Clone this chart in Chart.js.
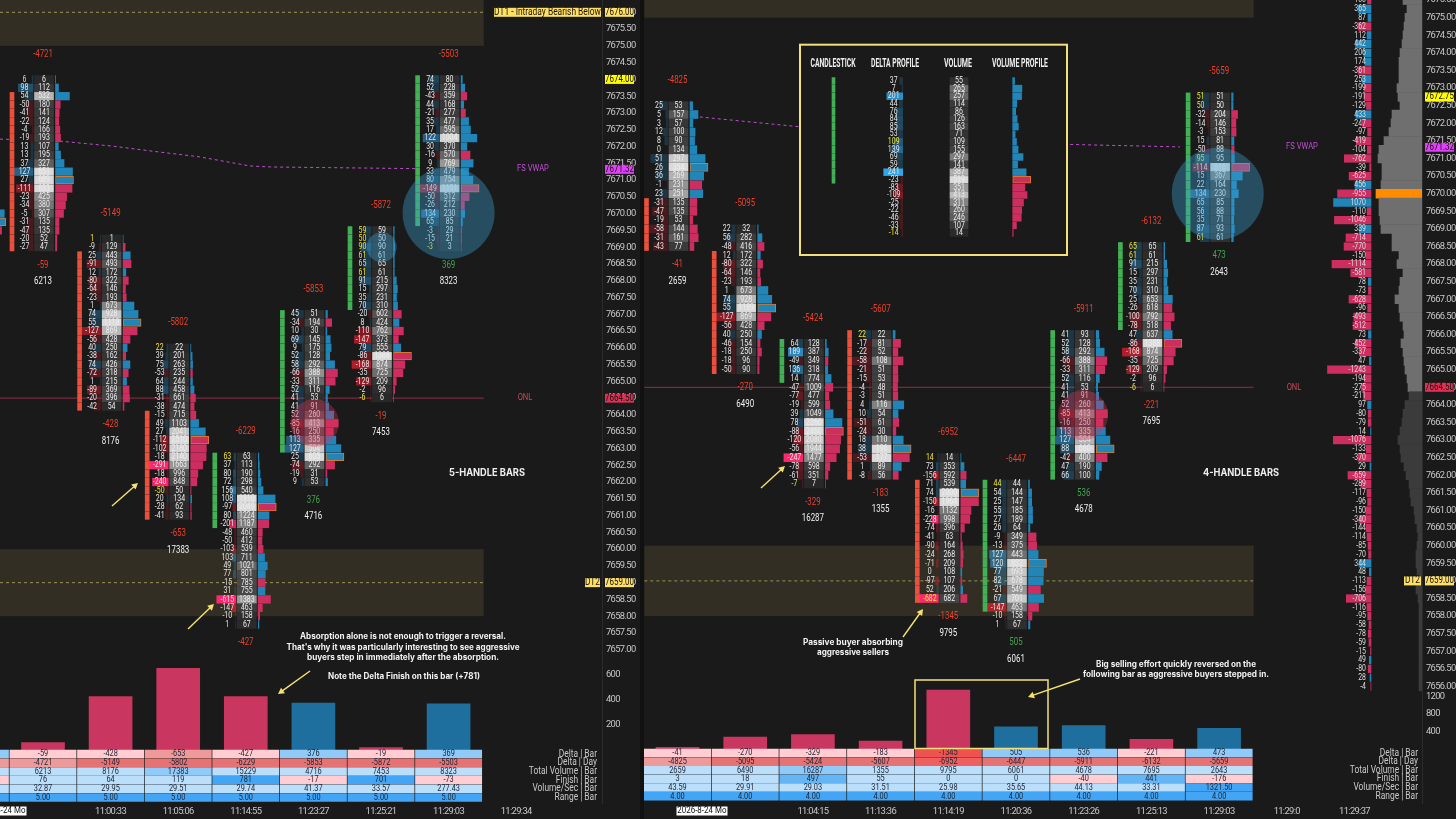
<!DOCTYPE html>
<html><head><meta charset="utf-8"><title>Footprint chart</title>
<script src="https://cdn.jsdelivr.net/npm/chart.js@4"></script>
<style>
html,body{margin:0;padding:0;background:#1a1a1a;width:1456px;height:819px;overflow:hidden}
canvas{position:absolute;top:0;display:block}
#div{position:absolute;left:640px;top:0;width:4px;height:819px;background:#111}
</style></head><body>
<canvas id="cl" width="640" height="819" style="left:0"></canvas>
<canvas id="cr" width="816" height="819" style="left:640px"></canvas>
<div id="div"></div>
<script>
// ---------- LEFT PANE (5-handle bars) ----------
const leftTops=[7674,7669.25,7666,7662.75,7667,7669.5,7674];
const leftCandleHigh=[7673.5,7668.75,7664,7662.75,7667,7669.5,7674];
const leftCandleLow=[7669,7664.25,7661,7660.75,7663,7667.25,7669.75];
const leftCandleUp=[false,false,false,true,true,true,true];
const leftDelta0=[6,98,54,-50,-41,-22,-4,-19,13,13,37,127,27,-111,-23,-34,-5,-31,-47,-20,-27];
const leftVol0=[6,112,532,180,141,124,166,193,107,195,327,651,689,633,425,380,307,135,135,52,47];
const leftDelta1=[1,-9,25,-91,12,-80,-64,-23,1,74,55,-127,-56,40,-38,74,-72,1,-89,-20,-42];
const leftVol1=[1,129,443,493,172,322,146,193,673,928,1118,869,428,250,162,426,318,215,369,396,54];
const leftDelta2=[22,39,75,-53,64,88,-31,-38,-15,49,27,-112,-102,-18,-291,-18,-240,-50,20,-28,-41];
const leftVol2=[22,201,263,235,244,458,661,474,715,1103,2041,2510,2180,2140,1663,996,848,50,134,62,93];
const leftDelta3=[63,37,80,72,156,108,-97,80,-201,-48,-50,-103,103,49,77,-15,31,-615,-147,-10,1];
const leftVol3=[63,113,190,298,540,1910,2049,1224,1187,460,412,539,711,1021,801,785,755,1383,463,158,67];
const leftDelta4=[45,-34,10,69,9,52,58,-66,-33,52,41,41,52,-85,-16,113,127,25,-74,-19,9];
const leftVol4=[51,194,30,145,175,128,292,388,311,116,53,91,260,413,250,335,504,605,292,31,53];
const leftDelta5=[59,50,90,61,65,61,91,15,35,70,-20,8,-110,-147,79,-86,-168,-35,-129,-2,-6];
const leftVol5=[59,50,90,61,65,61,215,297,231,310,602,424,762,373,555,1388,874,725,209,96,6];
const leftDelta6=[74,52,-43,44,-21,35,17,122,30,-16,9,33,80,-149,-50,-26,134,65,-3,-15,-3];
const leftVol6=[80,228,359,168,277,477,595,1004,370,570,769,479,754,1151,512,212,230,85,29,21,3];
const leftEdgeDelta=[30,10,-20];
const leftEdgeVol=[600,660,500];
const leftDeltaBar=[-59,-428,-653,-427,376,-19,369];
const leftDeltaDay=[-4721,-5149,-5802,-6229,-5853,-5872,-5503];
const leftTotalVol=[6213,8176,17383,15229,4716,7453,8323];
const leftFinish=[76,64,119,781,-17,701,-73];
const leftVolSec=[32.87,29.95,29.51,29.74,41.37,33.57,277.43];
const leftRange=[5,5,5,5,5,5,5];
const leftEdgeTable=[150,-4662,7000,-12,30.1,5];
const leftTimes=['11:00:33','11:05:06','11:14:55','11:23:27','11:25:21','11:29:03','11:29:34'];
const leftVwapX=[-.636,-.459,null,.25,1.035,1.58,2.32,3.06,3.36,4.25,5.53];
const leftVwapP=[7672.22,7672.21,null,7672.16,7672.01,7671.87,7671.69,7671.42,7671.39,7671.37,7671.34];

// ---------- RIGHT PANE (4-handle bars) ----------
const rightTops=[7672.5,7669,7665.75,7666,7662.5,7661.75,7666,7668.5,7672.75];
const rightCandleHigh=[7669.75,7668.25,7665.75,7666,7661.75,7661.75,7666,7668.5,7672.75];
const rightCandleLow=[7668.5,7665,7664.75,7662,7658.5,7658.25,7662,7666.25,7668.75];
const rightCandleUp=[false,false,true,false,false,true,true,true,true];
const rightDelta0=[25,5,3,12,8,0,51,26,36,-1,23,-31,-47,-19,-58,-31,-43];
const rightVol0=[53,157,57,100,90,134,297,354,269,231,251,135,135,53,144,161,77];
const rightDelta1=[22,56,-48,12,-80,-64,-23,1,74,55,-127,-56,40,-46,-18,-18,-50];
const rightVol1=[32,282,416,172,322,146,193,673,928,1189,869,428,250,154,250,96,90];
const rightDelta2=[64,189,-49,136,14,-47,-77,-19,39,78,-88,-120,-56,-247,-78,-61,-7];
const rightVol2=[128,387,349,318,774,1009,477,599,1049,2260,2460,2080,1944,1477,598,351,7];
const rightDelta3=[22,-17,-22,-58,-21,-15,-4,-3,4,10,-51,-24,18,38,-53,1,-8];
const rightVol3=[22,81,52,108,51,53,48,51,116,54,61,30,110,196,177,89,56];
const rightDelta4=[14,73,-156,71,74,-150,-16,-228,-74,-41,-90,-24,-71,0,-97,52,-682];
const rightVol4=[14,353,592,539,2000,1964,1132,998,396,63,164,268,209,108,107,206,682];
const rightDelta5=[44,54,25,55,27,26,-9,-13,127,120,77,82,-21,67,-147,-10,1];
const rightVol5=[44,144,147,185,189,64,349,375,443,832,693,678,549,701,463,158,67];
const rightDelta6=[41,52,58,-66,-33,52,41,41,52,-85,-16,113,127,88,-42,47,66];
const rightVol6=[93,128,292,388,311,116,53,91,260,413,250,335,504,660,400,190,100];
const rightDelta7=[65,61,91,15,35,70,25,-26,-100,-78,47,-86,-168,-35,-129,-2,-6];
const rightVol7=[65,61,215,297,231,310,653,618,792,518,637,1388,874,725,209,96,6];
const rightDelta8=[51,50,-32,-14,-3,15,-50,95,-114,15,22,134,65,56,35,87,61];
const rightVol8=[51,50,204,146,153,81,88,95,616,367,164,230,85,88,71,93,61];
const rightDeltaBar=[-41,-270,-329,-183,-1345,505,536,-221,473];
const rightDeltaDay=[-4825,-5095,-5424,-5607,-6952,-6447,-5911,-6132,-5659];
const rightTotalVol=[2659,6490,16287,1355,9795,6061,4678,7695,2643];
const rightFinish=[3,18,497,55,0,0,-40,441,-176];
const rightVolSec=[43.59,29.91,29.03,31.51,25.98,35.65,44.13,33.31,1321.5];
const rightRange=[4,4,4,4,4,4,4,4,4];
const rightTimes=['11:04:15','11:13:36','11:14:19','11:20:36','11:23:26','11:25:13','11:29:03','11:29:0','11:29:37'];
const rightVwapX=[.33,1.81,null,5.8,6.24,7.42];
const rightVwapP=[7672.18,7671.9,null,7671.4,7671.38,7671.33];
const profileDelta=[-100,365,87,-362,112,442,206,174,-361,253,-199,-191,-129,433,-247,-97,-419,-104,-762,-39,-625,456,-955,1070,-110,-1046,339,-714,-770,-150,-1114,-581,78,-73,-628,-96,-493,-512,73,-452,-337,47,-1243,-194,-275,-211,97,-80,-79,14,-1076,-133,-370,29,-659,-289,-117,-96,-150,-340,-144,-114,-85,-70,344,48,-113,-156,-706,-116,-95,-58,-78,-59,-15,49,-80,28,-4];
const profileVolume=[4750,3750,4250,4500,4750,5000,5500,5750,5750,5750,6250,6000,5500,7500,7750,8250,9500,10750,11000,10000,10000,10250,11500,10750,10750,10500,10250,7500,7500,5750,6250,4750,5500,5750,6750,5750,5500,4750,4500,5250,4750,4500,4250,3750,3500,3250,4250,4750,5000,5500,6000,5500,5250,4500,4000,3250,3000,2750,2000,1750,1250,1000,1250,1500,1500,1250,750,1500,1000,750,750,750,750,750,750,750,750,750,750];

// ---------- LEGEND BOX ----------
const legendHeads=['CANDLESTICK','DELTA PROFILE','VOLUME','VOLUME PROFILE'];
const legendDelta=[37,7,201,44,76,84,85,53,109,139,69,59,241,-23,-83,-109,-25,-22,-46,-33,-14];
const legendVol=[55,265,257,114,86,126,163,71,109,155,297,141,387,519,351,413,311,260,246,107,14];

// ---------- SHARED LABELS ----------
const tableRowNames=['Delta | Bar','Delta | Day','Total Volume | Bar','Finish | Bar','Volume/Sec | Bar','Range | Bar'];

// ---------- STYLE / LAYOUT ----------
const NARROW='"Roboto",sans-serif';
const SANS='"Inter","Open Sans",sans-serif';
const FOOT='8.9px '+NARROW;
const BAND='#332e23', RED='#e8402f', GREEN='#43a24f';
const PINK='#cc2f5f', BLUE='#2185b8';
const tints=[
 v=>v>=0?'#90caf9':v<-1000?'#ef5350':v<-500?'#ef9a9a':'#ffcdd2',
 v=>v<-6900?'#ef5f5f':v<-5000?'#e57373':'#ef9a9a',
 v=>v>16000?'#90caf9':'#bbdefb',
 v=>v<0?'#ffcdd2':v>600?'#42a5f5':v>400?'#64b5f6':'#bbdefb',
 v=>v>1000?'#42a5f5':'#bbdefb',
 ()=>'#42a5f5'
];
const grayOf=t=>{const g=Math.round(t<=.4?40+t/.4*34:Math.min(218,74+(t-.4)/.5*144));return `rgb(${g},${g},${g})`;};

function group(){return {cand:[],candC:[],shade:[],shadeC:[],cell:[],cellC:[],prof:[],profC:[],poc:[],pocC:[]};}

function addColumn(P,G,yId,o){
 const L=o.L,u=P.u,c=o.c;
 const mxV=Math.max(...o.vol),mxD=Math.max(...o.delta.map(Math.abs),1);
 o.vol.forEach((v,i)=>{
  const d=o.delta[i],p=o.top-i*o.step;
  if(o.hi!==undefined&&p<=o.hi+1e-6&&p>=o.lo-1e-6){G.cand.push({x:[c+u*L.cand[0],c+u*L.cand[1]],y:p});G.candC.push(o.up?'#42b155':'#ec4f3b');}
  if(d!==0){
   const w=L.dW*Math.abs(d)/mxD,a=Math.max(.2,Math.min(1,Math.abs(d)/250));
   G.shade.push({x:[c+u*(L.dR-w),c+u*L.dR],y:p});
   G.shadeC.push(d<0?`rgba(255,${a>.7?40:30},${a>.7?110:50},${a})`:`rgba(50,170,240,${a})`);
  }
  G.cell.push({x:[c+u*L.cL,c+u*L.cR],y:p});G.cellC.push(grayOf(v/mxV));
  const w=L.pW*v/mxV,bar={x:[c+u*L.pL,c+u*(L.pL+w)],y:p};
  if(v===mxV&&!o.noPoc){G.poc.push(bar);G.pocC.push(d<0?PINK:BLUE);}
  else{G.prof.push(bar);G.profC.push(d<0?PINK:BLUE);}
  if(o.text!==false){
   P.texts.push({t:String(d),xs:'x',x:c+u*L.dT,ys:yId,y:p,color:Math.abs(d)===v?'#f2e53a':'#e6e6e6',font:FOOT});
   P.texts.push({t:String(v),xs:'x',x:c+u*L.vT,ys:yId,y:p,color:'#eeeeee',font:FOOT});
  }
 });
 if(o.day!==undefined){
  const pTop=o.top,pBot=o.top-(o.vol.length-1)*o.step;
  const F='10.4px '+NARROW;
  P.texts.push({t:String(o.day),xs:'x',x:c,ys:yId,y:pTop,dy:-25,color:RED,font:F,sq:.76});
  P.texts.push({t:String(o.bar),xs:'x',x:c,ys:yId,y:pBot,dy:18,color:o.bar<0?RED:GREEN,font:F,sq:.76});
  P.texts.push({t:String(o.total),xs:'x',x:c,ys:yId,y:pBot,dy:34.5,color:'#f0f0f0',font:F,sq:.76,limit:P.textBottom});
 }
}
function bars(data,color,thick,x,y,order,extra){
 return Object.assign({type:'bar',indexAxis:'y',xAxisID:x,yAxisID:y,data,backgroundColor:color,barThickness:thick,grouped:false,order,borderWidth:0,borderSkipped:false},extra||{});
}
function groupSets(G,y,thick){
 return [
  bars(G.cand,G.candC,thick,'x',y,3),
  bars(G.shade,G.shadeC,thick,'x',y,3),
  bars(G.cell,G.cellC,thick,'x',y,3),
  bars(G.prof,G.profC,thick,'x',y,3),
  bars(G.poc,G.pocC,thick,'x',y,2,{borderWidth:1,borderColor:'#d9772c'})
 ];
}
function line(xs,ps,color,dash,width,order,y){
 return {type:'line',indexAxis:'x',xAxisID:'x',yAxisID:y||'y',data:xs.map((x,i)=>({x,y:ps[i]})),borderColor:color,borderDash:dash||[],borderWidth:width||1,pointRadius:0,spanGaps:false,order:order||8,tension:0};
}
const range=(val0,y0,k,bottom)=>({max:val0+y0/k,min:val0-(bottom-y0)/k});
const squeezed=(c,t,x,y,q)=>c.fillText(t,x,y,c.measureText(t).width*q);

function makePane(P){
 const AREA_BOTTOM=803;
 const pr=range(P.p0,P.py0,P.k,AREA_BOTTOM);
 const dr=range(0,P.dy0,1/P.dUnit,AREA_BOTTOM);
 const cStep=P.cStep;
 P.u=1/cStep;
 const xMin=(P.left-P.c0)/cStep,xMax=(P.left+P.areaW-P.c0)/cStep;
 const tr={min:-(P.ty0)/P.tStep,max:(AREA_BOTTOM-P.ty0)/P.tStep};
 P.texts=[];
 const G=group();
 P.columns.forEach(col=>addColumn(P,G,'y',Object.assign({L:P.L,step:.25},col)));
 const sets=groupSets(G,'y',P.thick);
 // table
 const cell=[],cellC=[];
 P.table.forEach((row,r)=>row.forEach((v,i)=>{
   cell.push({x:[i-.5+.01,i+.5-.01],y:r});cellC.push(tints[r](v));
   P.texts.push({t:r>=4?v.toFixed(2):String(v),xs:'x',x:i,ys:'yt',y:r,color:'#1c2433',font:'9.2px '+NARROW,sq:.8});
 }));
 if(P.edgeTable){P.edgeTable.forEach((v,r)=>{cell.push({x:[-1.5+.01,-.5-.01],y:r});cellC.push(tints[r](v));});}
 sets.push(bars(cell,cellC,7.8,'x','yt',4));
 tableRowNames.forEach((n,r)=>P.px.push({t:n,x:P.rowLabelX,row:r,color:'#c9c9c9',align:'right',font:'10px '+NARROW,sq:.84}));
 // delta per bar histogram
 sets.push({type:'bar',indexAxis:'x',xAxisID:'x',yAxisID:'yd',data:P.deltaBar.map((v,i)=>({x:i,y:Math.abs(v)})),backgroundColor:P.deltaBar.map(v=>v<0?'#c9365f':'#1f6f9e'),barThickness:43,grouped:false,order:5});
 // levels
 sets.push(line(P.zoneX,[7676,7676],'#9c9458',[3,3],1,9));
 sets.push(line(P.zoneX,[7659,7659],'#9c9458',[3,3],1,9));
 sets.push(line(P.onlX,[7664.5,7664.5],'#8e2f47',[],1,9));
 sets.push(line(P.vwapX,P.vwapP,'#c04fd0',[3,3],1,7));
 if(P.extraSets)P.extraSets(P,sets);
 const TICKF={family:NARROW,size:9.4};
 const scales={
  x:{type:'linear',axis:'x',min:xMin,max:xMax,offset:false,grid:{display:false,drawTicks:false},border:{display:false},
     afterBuildTicks:s=>{s.ticks=P.times.map((t,i)=>({value:i+P.timeStart}));},
     afterFit:s=>{s.height=16;s.paddingLeft=0;s.paddingRight=0;},
     ticks:{autoSkip:false,maxRotation:0,padding:3,color:'#c9c9c9',font:TICKF,callback:v=>P.times[Math.round(v-P.timeStart)]}},
  y:{type:'linear',axis:'y',position:'right',min:pr.min,max:pr.max,offset:false,weight:1,grid:{display:false,drawTicks:false},border:{color:'#2b2b2b'},
     afterBuildTicks:s=>{const a=[];for(let p=P.pLow;p<=P.pHigh;p+=.5)a.push({value:p});s.ticks=a;},
     afterFit:s=>{s.width=P.axisW;s.paddingTop=0;s.paddingBottom=0;},
     ticks:{autoSkip:false,padding:4,color:'#c9c9c9',font:TICKF,callback:v=>v.toFixed(2)}},
  yd:{type:'linear',axis:'y',position:'right',min:dr.min,max:dr.max,offset:false,weight:0,grid:{display:false,drawTicks:false},border:{display:false},
     afterBuildTicks:s=>{s.ticks=P.dTicks.map(v=>({value:v}));},
     afterFit:s=>{s.width=0;s.paddingTop=0;s.paddingBottom=0;},
     ticks:{autoSkip:false,padding:4,color:'#c9c9c9',font:TICKF,callback:v=>String(v)}},
  yt:{type:'linear',axis:'y',display:false,min:tr.min,max:tr.max,reverse:true,offset:false}
 };
 if(P.extraScales)Object.assign(scales,P.extraScales(P));
 const plugin={
  id:'paint',
  afterLayout(ch){const s=ch.scales.yd;s.left=ch.chartArea.right;s.right=s.left+P.axisW;},
  beforeDraw(ch){ch.ctx.letterSpacing='-0.65px';},
  beforeDatasetsDraw(ch){
   const c=ch.ctx,x=ch.scales.x,y=ch.scales.y;
   c.letterSpacing='0px';
   c.save();c.fillStyle=BAND;
   P.bands.forEach(b=>{
    const y0=y.getPixelForValue(b[1]),y1=y.getPixelForValue(b[0]);
    c.fillRect(x.getPixelForValue(P.zoneX[0]),y0,x.getPixelForValue(P.zoneX[1])-x.getPixelForValue(P.zoneX[0]),y1-y0);
   });
   c.restore();
   if(P.box){c.save();c.fillStyle='#1a1a1a';const b=P.box;c.fillRect(b[0]-P.left,b[1],b[2]-b[0],b[3]-b[1]);c.restore();}
  },
  afterDatasetsDraw(ch){
   const c=ch.ctx;
   c.save();c.textAlign='center';c.textBaseline='middle';
   P.texts.forEach(T=>{
    let X=ch.scales[T.xs].getPixelForValue(T.x)+(T.dx||0),Y=ch.scales[T.ys].getPixelForValue(T.y)+(T.dy||0);
    if(T.limit&&Y>T.limit)return;
    c.font=T.font;c.fillStyle=T.color;c.textAlign=T.align||'center';squeezed(c,T.t,X,Y,T.sq||.78);
   });
   // circles
   P.circles.forEach(k=>{
    c.beginPath();c.arc(ch.scales.x.getPixelForValue(k[0]),ch.scales.y.getPixelForValue(k[1]),k[2],0,Math.PI*2);c.fillStyle=k[3];c.fill();
   });
   // free text
   c.textBaseline='middle';
   P.px.forEach(T=>{
    const Y=T.row!==undefined?ch.scales.yt.getPixelForValue(T.row):T.y;
    c.font=T.font;c.fillStyle=T.color;c.textAlign=T.align||'center';
    if(T.maxW)c.fillText(T.t,T.x-P.left,Y,T.maxW);else squeezed(c,T.t,T.x-P.left,Y,T.sq||.8);
   });
   // arrows
   P.arrows.forEach(a=>{
    const [x0,y0,x1,y1]=[a[0]-P.left,a[1],a[2]-P.left,a[3]],an=Math.atan2(y1-y0,x1-x0);
    c.strokeStyle='#f5e26f';c.fillStyle='#f5e26f';c.lineWidth=1.4;
    c.beginPath();c.moveTo(x0,y0);c.lineTo(x1-4*Math.cos(an),y1-4*Math.sin(an));c.stroke();
    c.beginPath();c.moveTo(x1,y1);c.lineTo(x1-7*Math.cos(an-.5),y1-7*Math.sin(an-.5));c.lineTo(x1-7*Math.cos(an+.5),y1-7*Math.sin(an+.5));c.closePath();c.fill();
   });
   // rectangles
   P.rects.forEach(r=>{c.strokeStyle='#f4e07a';c.lineWidth=r[4];c.strokeRect(r[0]-P.left,r[1],r[2]-r[0],r[3]-r[1]);});
   // price tags
   P.tags.forEach(g=>{
    const Y=ch.scales.y.getPixelForValue(g[0]);
    c.fillStyle=g[1];c.fillRect(P.tagX-P.left,Y-4.5,P.tagW,9);
    c.fillStyle='#1a1208';c.font='10px '+NARROW;c.textAlign='center';squeezed(c,g[0].toFixed(2),P.tagX-P.left+P.tagW/2,Y,.8);
   });
   P.flags.forEach(g=>{
    const Y=ch.scales.y.getPixelForValue(g[3]);
    c.fillStyle='#ffe066';c.fillRect(g[1]-P.left,Y-4.5,g[2]-g[1],9);
    c.fillStyle='#1a1208';c.font='10px '+NARROW;c.textAlign='center';squeezed(c,g[0],(g[1]+g[2])/2-P.left,Y,.84);
   });
   // date tag
   const d=P.dateTag;
   c.fillStyle='#ffffff';c.fillRect(d[0]-P.left,806.5,d[1]-d[0],9);
   c.save();c.beginPath();c.rect(d[0]-P.left,806,d[1]-d[0],10);c.clip();
   c.fillStyle='#111';c.font='9.5px '+NARROW;c.textAlign='right';squeezed(c,'2026-8-24 Mo',d[1]-P.left-1,811,.84);c.restore();
   c.restore();
  }
 };
 return new Chart(document.getElementById(P.id),{type:'bar',data:{datasets:sets},plugins:[plugin],
  options:{responsive:false,animation:false,devicePixelRatio:1,events:[],layout:{padding:0},
   plugins:{legend:{display:false},tooltip:{enabled:false},title:{display:false}},scales}});
}

const footL={cand:[-33,-29],dT:-18.5,dR:-10,dW:19,cL:-8.5,cR:10.5,vT:1,pL:12.5,pW:18};
const ANNOT='700 8.3px '+SANS;
const leftD=[leftDelta0,leftDelta1,leftDelta2,leftDelta3,leftDelta4,leftDelta5,leftDelta6];
const leftV=[leftVol0,leftVol1,leftVol2,leftVol3,leftVol4,leftVol5,leftVol6];
const rightD=[rightDelta0,rightDelta1,rightDelta2,rightDelta3,rightDelta4,rightDelta5,rightDelta6,rightDelta7,rightDelta8];
const rightV=[rightVol0,rightVol1,rightVol2,rightVol3,rightVol4,rightVol5,rightVol6,rightVol7,rightVol8];

// left pane
const leftCols=leftTops.map((top,i)=>({c:i,top,delta:leftD[i],vol:leftV[i],hi:leftCandleHigh[i],lo:leftCandleLow[i],up:leftCandleUp[i],day:leftDeltaDay[i],bar:leftDeltaBar[i],total:leftTotalVol[i]}));
leftCols.push({c:-1,top:7670,delta:leftEdgeDelta,vol:leftEdgeVol,text:false});
makePane({id:'cl',left:0,areaW:602,axisW:38,c0:43,cStep:67.6,p0:7676,py0:12.3,k:33.55,dy0:750,dUnit:8,ty0:754,tStep:8.7,thick:7.6,L:footL,
 columns:leftCols,table:[leftDeltaBar,leftDeltaDay,leftTotalVol,leftFinish,leftVolSec,leftRange],edgeTable:leftEdgeTable,
 deltaBar:leftDeltaBar,dTicks:[200,400,600],pLow:7657,pHigh:7676,times:leftTimes,timeStart:1,textBottom:652,
 zoneX:[-.636,6.52],onlX:[-.636,6.52],vwapX:leftVwapX,vwapP:leftVwapP,bands:[[7675,7677],[7658,7660]],
 circles:[[6,7670.02,46,'rgba(60,160,210,.38)'],[5.01,7669,15,'rgba(60,160,210,.38)'],[4.02,7663.76,24,'rgba(220,50,90,.36)']],
 rowLabelX:597,tagX:605,tagW:29,
 tags:[[7676,'#ffe066'],[7674,'#ffff00'],[7671.32,'#e040fb'],[7664.5,'#e0305a'],[7659,'#ffe066']],
 flags:[['DT1 - Intraday Bearish Below',494,601,7676],['DT2',585,600,7659]],
 dateTag:[0,26.5],rects:[],
 arrows:[[112,506,138,483],[188,629,214,604],[310,671,278,694]],
 px:[
  {t:'FS VWAP',x:533,y:168.5,color:'#c24fd6',font:'9.5px '+NARROW},
  {t:'ONL',x:525,y:398,color:'#c9485f',font:'9.5px '+NARROW},
  {t:'5-HANDLE BARS',x:487,y:473,color:'#eeeeee',font:'700 9.8px '+SANS,maxW:76},
  {t:'Absorption alone is not enough to trigger a reversal.',x:403,y:637,color:'#f2f2f2',font:ANNOT,maxW:206},
  {t:"That's why it was particularly interesting to see aggressive",x:403,y:647.5,color:'#f2f2f2',font:ANNOT,maxW:233},
  {t:'buyers step in immediately after the absorption.',x:403,y:657.5,color:'#f2f2f2',font:ANNOT,maxW:192},
  {t:'Note the Delta Finish on this bar (+781)',x:404,y:677,color:'#f2f2f2',font:ANNOT,maxW:152}
 ]
});

// right pane
const rightCols=rightTops.map((top,i)=>({c:i,top,delta:rightD[i],vol:rightV[i],hi:rightCandleHigh[i],lo:rightCandleLow[i],up:rightCandleUp[i],day:rightDeltaDay[i],bar:rightDeltaBar[i],total:rightTotalVol[i]}));
const legendL={cand:[-127,-124],dT:-65.3,dR:-56.3,dW:19,cL:-9,cR:9,vT:0,pL:53.7,pW:18};
makePane({id:'cr',left:640,areaW:782,axisW:34,c0:677.5,cStep:67.7,p0:7675,py0:17.7,k:35.2,dy0:749,dUnit:22.86,ty0:753,tStep:8.65,thick:8,L:footL,
 columns:rightCols,table:[rightDeltaBar,rightDeltaDay,rightTotalVol,rightFinish,rightVolSec,rightRange],
 deltaBar:rightDeltaBar,dTicks:[400,800,1200],pLow:7656,pHigh:7675.5,times:rightTimes,timeStart:2,textBottom:700,
 zoneX:[-.49,8.51],onlX:[-.49,8.51],vwapX:rightVwapX,vwapP:rightVwapP,bands:[[7675,7677],[7658,7660]],
 circles:[[7.98,7670,46,'rgba(60,160,210,.38)'],[5.99,7663.71,25,'rgba(220,50,90,.36)']],
 rowLabelX:1418,tagX:1425,tagW:29,
 tags:[[7672.75,'#ffff00'],[7671.32,'#e040fb'],[7664.5,'#e0305a'],[7659,'#ffe066']],
 flags:[['DT2',1404,1421,7659]],
 dateTag:[676.5,727.5],
 rects:[[800,44.7,1067,255,2],[915,680,1048,748.5,1.5]],
 box:[800,44.7,1067,255],
 arrows:[[761,488,785,466],[903,637,923,609],[1080,679,1028,697]],
 px:[
  {t:legendHeads[0],x:833,y:64,color:'#eeeeee',font:'700 12px '+NARROW,maxW:45},
  {t:legendHeads[1],x:895,y:64,color:'#eeeeee',font:'700 12px '+NARROW,maxW:48},
  {t:legendHeads[2],x:958,y:64,color:'#eeeeee',font:'700 12px '+NARROW,maxW:28},
  {t:legendHeads[3],x:1020,y:64,color:'#eeeeee',font:'700 12px '+NARROW,maxW:56},
  {t:'FS VWAP',x:1302,y:147,color:'#c24fd6',font:'9.5px '+NARROW},
  {t:'ONL',x:1294,y:388,color:'#c9485f',font:'9.5px '+NARROW},
  {t:'4-HANDLE BARS',x:1241,y:473,color:'#eeeeee',font:'700 9.8px '+SANS,maxW:76},
  {t:'Passive buyer absorbing',x:853,y:643,color:'#f2f2f2',font:ANNOT,maxW:100},
  {t:'aggressive sellers',x:853,y:652.5,color:'#f2f2f2',font:ANNOT,maxW:72},
  {t:'Big selling effort quickly reversed on the',x:1176,y:665,color:'#f2f2f2',font:ANNOT,maxW:160},
  {t:'following bar as aggressive buyers stepped in.',x:1176,y:675,color:'#f2f2f2',font:ANNOT,maxW:186}
 ],
 extraScales:P=>{
  const u=P.areaW;
  return {
   xv:{type:'linear',axis:'x',display:false,reverse:true,min:0,max:u*250,offset:false},
   xd:{type:'linear',axis:'x',display:false,reverse:true,min:-1457,max:-1457+u/.035,offset:false},
   yl:{type:'linear',axis:'y',display:false,reverse:true,min:-81/7.6,max:(803-81)/7.6,offset:false}
  };
 },
 extraSets:(P,sets)=>{
  const LG=group();
  addColumn(P,LG,'yl',{L:legendL,step:1,c:(959-677.5)/67.7,top:0,delta:legendDelta,vol:legendVol,hi:0,lo:-13,up:true});
  // legend rows run downward on a reversed axis: flip row index
  [LG.cand,LG.shade,LG.cell,LG.prof,LG.poc].forEach(a=>a.forEach(b=>{b.y=-b.y;}));
  P.texts.forEach(T=>{if(T.ys==='yl')T.y=-T.y;});
  groupSets(LG,'yl',6.8).forEach(s=>{s.order=1;sets.push(s);});
  const dp=[],dc=[],vp=[],vc=[];
  profileDelta.forEach((v,i)=>{
   const p=7675.5-i*.25;
   dp.push({x:[0,Math.abs(v)],y:p});dc.push(v<0?PINK:BLUE);
   P.texts.push({t:String(v),xs:'xd',x:0,dx:-5,ys:'y',y:p,color:'#dddddd',font:FOOT,align:'right'});
  });
  profileVolume.forEach((v,i)=>{
   const p=7675.5-i*.25;
   vp.push({x:[0,v],y:p});vc.push(p===7670?'#ff8c00':p>=7664.5?'#6f6f6f':'#3b3b3b');
  });
  sets.push(bars(vp,vc,8.8,'xv','y',6));
  sets.push(bars(dp,dc,7.6,'xd','y',6));
 }
});
</script>
</body></html>
